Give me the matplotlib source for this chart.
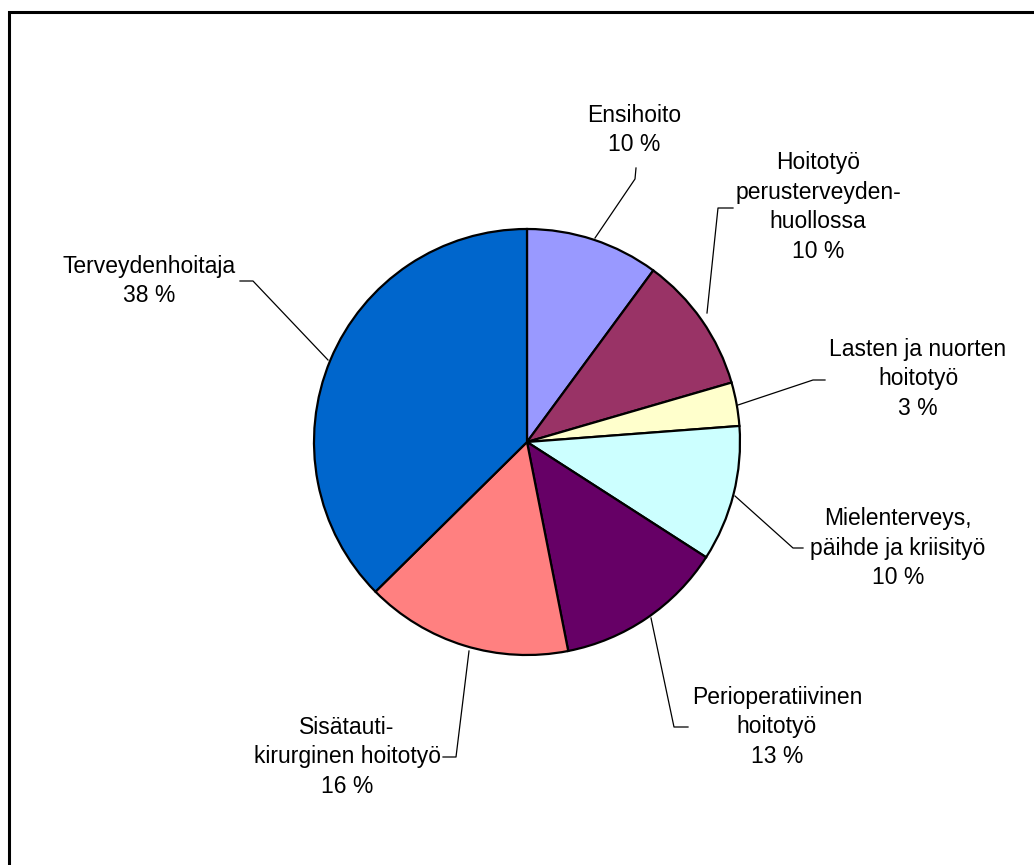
import matplotlib.pyplot as plt
from matplotlib.patches import Rectangle

# slice shares (labels show the rounded values)
categories = ["Ensihoito", "Hoitotyö\nperusterveyden-\nhuollossa",
              "Lasten ja nuorten\nhoitotyö", "Mielenterveys,\npäihde ja kriisityö",
              "Perioperatiivinen\nhoitotyö", "Sisätauti-\nkirurginen hoitotyö",
              "Terveydenhoitaja"]
shares = [10.1, 10.4, 3.3, 10.3, 12.8, 15.7, 37.4]
pct_labels = ["10 %", "10 %", "3 %", "10 %", "13 %", "16 %", "38 %"]
colors = ["#9999FF", "#993366", "#FFFFCC", "#CCFFFF", "#660066", "#FF8080", "#0066CC"]

W, H = 1034, 865
fig = plt.figure(figsize=(W / 100, H / 100), dpi=100)
ax = fig.add_axes([0, 0, 1, 1])

cx, cy, r = 527, H - 442, 213
ax.pie(shares, colors=colors, startangle=90, counterclock=False,
       center=(cx, cy), radius=r,
       wedgeprops=dict(edgecolor="black", linewidth=1.6))

ax.set_xlim(0, W)
ax.set_ylim(0, H)
ax.set_aspect("equal")
ax.axis("off")

# frame: only top and left edges are inside the picture
ax.add_patch(Rectangle((9, -20), W + 20, H - 12 + 20, fill=False,
                       edgecolor="black", linewidth=2.2, clip_on=False))

# label layout in pixel coords: (text x, text y), leader path
layout = [
    ((634, 130), [(595, 238), (635, 179), (636, 168)]),
    ((818, 207), [(707, 313), (718, 208), (733, 208)]),
    ((918, 379), [(738, 405), (813, 380), (825, 380)]),
    ((898, 548), [(735, 496), (793, 548), (803, 548)]),
    ((777, 727), [(651, 618), (674, 727), (688, 727)]),
    ((347, 757), [(469, 651), (456, 757), (443, 757)]),
    ((149, 281), [(328, 360), (253, 281), (240, 281)]),
]

for name, pct, (pos, path) in zip(categories, pct_labels, layout):
    xs = [p[0] for p in path]
    ys = [H - p[1] for p in path]
    ax.plot(xs, ys, color="black", linewidth=0.9)
    ax.text(pos[0], H - pos[1], name + "\n" + pct, ha="center", va="center",
            fontsize=16.5, family="Liberation Sans", linespacing=1.38)

plt.savefig("out.png", dpi=100)
